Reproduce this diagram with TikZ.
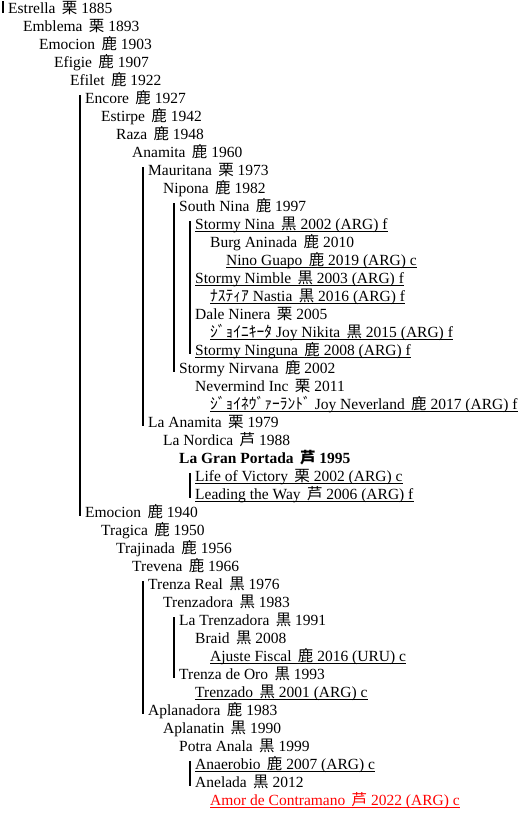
\documentclass[tikz,border=0pt]{standalone}
\usepackage{fontspec}
\setmainfont{Liberation Serif}
\newfontfamily\jp{Noto Sans CJK JP}
\newcommand\coat[1]{\hspace{2.5pt}{\jp #1}}
\tikzset{
  horse/.style={anchor=base west, inner sep=0pt, font=\fontsize{15.5}{18}\selectfont},
  bar/.style={line width=2.2pt},
  uline/.style={line width=0.9pt}
}
\begin{document}
\begin{tikzpicture}[x=1pt,y=-1pt]
  \useasboundingbox (0,0) rectangle (529,839);

  % first line of dams
  \node[horse] (estrella) at (8,13.3) {Estrella \coat{栗} 1885};
  \node[horse] (emblema) at (23,31.3) {Emblema \coat{栗} 1893};
  \node[horse] (emocionA) at (39,49.3) {Emocion \coat{鹿} 1903};
  \node[horse] (efigie) at (54,67.3) {Efigie \coat{鹿} 1907};
  \node[horse] (efilet) at (70,85.3) {Efilet \coat{鹿} 1922};

  % Encore branch
  \node[horse] (encore) at (85,103.3) {Encore \coat{鹿} 1927};
  \node[horse] (estirpe) at (101,121.3) {Estirpe \coat{鹿} 1942};
  \node[horse] (raza) at (116,139.3) {Raza \coat{鹿} 1948};
  \node[horse] (anamita) at (132,157.3) {Anamita \coat{鹿} 1960};
  \node[horse] (mauritana) at (148,175.3) {Mauritana \coat{栗} 1973};
  \node[horse] (nipona) at (163,193.3) {Nipona \coat{鹿} 1982};
  \node[horse] (southnina) at (179,211.3) {South Nina \coat{鹿} 1997};
  \node[horse] (stnina) at (195,229.3) {Stormy Nina \coat{黒} 2002 (ARG) f};
  \node[horse] (burg) at (210,247.3) {Burg Aninada \coat{鹿} 2010};
  \node[horse] (guapo) at (226,265.3) {Nino Guapo \coat{鹿} 2019 (ARG) c};
  \node[horse] (stnimble) at (195,283.3) {Stormy Nimble \coat{黒} 2003 (ARG) f};
  \node[horse] (nastia) at (210,301.3) {{\jp ﾅｽﾃｨｱ} Nastia \coat{黒} 2016 (ARG) f};
  \node[horse] (dale) at (195,319.3) {Dale Ninera \coat{栗} 2005};
  \node[horse] (nikita) at (210,337.3) {{\jp ｼﾞｮｲﾆｷｰﾀ} Joy Nikita \coat{黒} 2015 (ARG) f};
  \node[horse] (stninguna) at (195,355.3) {Stormy Ninguna \coat{鹿} 2008 (ARG) f};
  \node[horse] (stnirvana) at (179,373.3) {Stormy Nirvana \coat{鹿} 2002};
  \node[horse] (nevermind) at (195,391.3) {Nevermind Inc \coat{栗} 2011};
  \node[horse] (neverland) at (210,409.3) {{\jp ｼﾞｮｲﾈｳﾞｧｰﾗﾝﾄﾞ} Joy Neverland \coat{鹿} 2017 (ARG) f};
  \node[horse] (laanamita) at (148,427.3) {La Anamita \coat{栗} 1979};
  \node[horse] (nordica) at (163,445.3) {La Nordica \coat{芦} 1988};
  \node[horse, font=\fontsize{15.5}{18}\selectfont\bfseries] (portada) at (179,463.3) {La Gran Portada \coat{芦} 1995};
  \node[horse] (victory) at (195,481.3) {Life of Victory \coat{栗} 2002 (ARG) c};
  \node[horse] (leading) at (195,499.3) {Leading the Way \coat{芦} 2006 (ARG) f};

  % Emocion branch
  \node[horse] (emocionB) at (85,517.3) {Emocion \coat{鹿} 1940};
  \node[horse] (tragica) at (101,535.3) {Tragica \coat{鹿} 1950};
  \node[horse] (trajinada) at (116,553.3) {Trajinada \coat{鹿} 1956};
  \node[horse] (trevena) at (132,571.3) {Trevena \coat{鹿} 1966};
  \node[horse] (trenzareal) at (148,589.3) {Trenza Real \coat{黒} 1976};
  \node[horse] (trenzadora) at (163,607.3) {Trenzadora \coat{黒} 1983};
  \node[horse] (latrenzadora) at (179,625.3) {La Trenzadora \coat{黒} 1991};
  \node[horse] (braid) at (195,643.3) {Braid \coat{黒} 2008};
  \node[horse] (ajuste) at (210,661.3) {Ajuste Fiscal \coat{鹿} 2016 (URU) c};
  \node[horse] (trenzaoro) at (179,679.3) {Trenza de Oro \coat{黒} 1993};
  \node[horse] (trenzado) at (195,697.3) {Trenzado \coat{黒} 2001 (ARG) c};
  \node[horse] (aplanadora) at (148,715.3) {Aplanadora \coat{鹿} 1983};
  \node[horse] (aplanatin) at (163,733.3) {Aplanatin \coat{黒} 1990};
  \node[horse] (anala) at (179,751.3) {Potra Anala \coat{黒} 1999};
  \node[horse] (anaerobio) at (195,769.3) {Anaerobio \coat{鹿} 2007 (ARG) c};
  \node[horse] (anelada) at (195,787.3) {Anelada \coat{黒} 2012};
  \node[horse, red] (amor) at (210,805.3) {Amor de Contramano \coat{芦} 2022 (ARG) c};

  % underlines
  \foreach \n in {stnina,guapo,stnimble,nastia,nikita,stninguna,neverland,victory,leading,ajuste,trenzado,anaerobio}
    \draw[uline] ([yshift=-2.5pt]\n.base west) -- ([yshift=-2.5pt]\n.base east);
  \draw[uline, red] ([yshift=-2.5pt]amor.base west) -- ([yshift=-2.5pt]amor.base east);

  % family bars
  \draw[bar] ([xshift=-5pt,yshift=12pt]estrella.base west) -- ([xshift=-5pt]estrella.base west);
  \foreach \a/\b in {encore/emocionB,mauritana/laanamita,southnina/stnirvana,stnina/stninguna,victory/leading,trenzareal/aplanadora,latrenzadora/trenzaoro,anaerobio/anelada}
    \draw[bar] ([xshift=-5pt,yshift=8pt]\a.base west) -- ([xshift=-5pt,yshift=1pt]\b.base west);
\end{tikzpicture}
\end{document}
